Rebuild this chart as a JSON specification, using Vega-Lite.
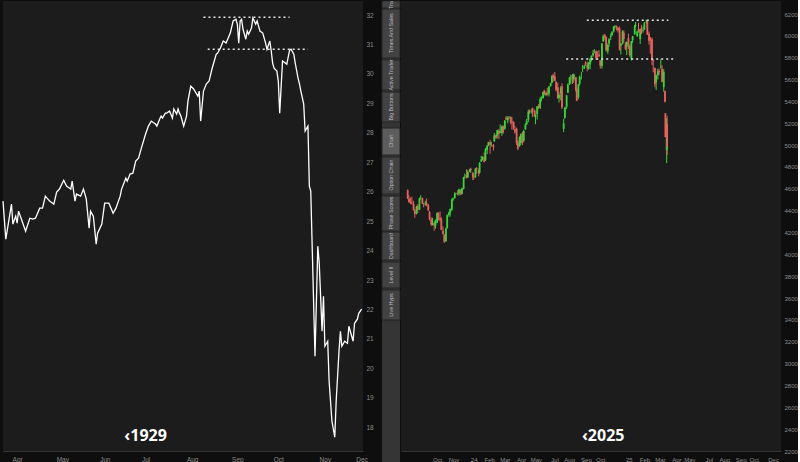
{
"$schema": "https://vega.github.io/schema/vega-lite/v6.json",
"background": "#0e0e0e",
"padding": 0,
"spacing": 0,
"config": {
  "view": {"fill": "#1c1c1c", "stroke": null},
  "axis": {"labelColor": "#8c8c8c", "labelFont": "Liberation Sans", "labelFontSize": 6.5, "ticks": false, "grid": false, "domain": false, "title": null},
  "concat": {"spacing": 0}
},
"datasets": {
  "spx": [
{"d":"2023-07-31","o":4588,"h":4594,"l":4505,"c":4513},
{"d":"2023-08-03","o":4510,"h":4540,"l":4474,"c":4478},
{"d":"2023-08-07","o":4480,"h":4520,"l":4460,"c":4467},
{"d":"2023-08-10","o":4470,"h":4527,"l":4455,"c":4464},
{"d":"2023-08-14","o":4460,"h":4490,"l":4400,"c":4404},
{"d":"2023-08-17","o":4400,"h":4415,"l":4335,"c":4370},
{"d":"2023-08-21","o":4375,"h":4445,"l":4365,"c":4436},
{"d":"2023-08-24","o":4440,"h":4460,"l":4375,"c":4406},
{"d":"2023-08-28","o":4410,"h":4520,"l":4405,"c":4514},
{"d":"2023-08-31","o":4515,"h":4541,"l":4500,"c":4515},
{"d":"2023-09-04","o":4515,"h":4520,"l":4460,"c":4465},
{"d":"2023-09-07","o":4460,"h":4472,"l":4430,"c":4457},
{"d":"2023-09-11","o":4460,"h":4490,"l":4445,"c":4467},
{"d":"2023-09-14","o":4470,"h":4511,"l":4440,"c":4450},
{"d":"2023-09-18","o":4450,"h":4460,"l":4395,"c":4402},
{"d":"2023-09-21","o":4390,"h":4395,"l":4310,"c":4320},
{"d":"2023-09-25","o":4320,"h":4340,"l":4260,"c":4274},
{"d":"2023-09-28","o":4275,"h":4335,"l":4265,"c":4288},
{"d":"2023-10-02","o":4285,"h":4300,"l":4216,"c":4263},
{"d":"2023-10-05","o":4260,"h":4320,"l":4235,"c":4308},
{"d":"2023-10-09","o":4290,"h":4385,"l":4285,"c":4377},
{"d":"2023-10-12","o":4380,"h":4385,"l":4310,"c":4327},
{"d":"2023-10-16","o":4330,"h":4394,"l":4300,"c":4314},
{"d":"2023-10-19","o":4320,"h":4340,"l":4220,"c":4224},
{"d":"2023-10-23","o":4215,"h":4255,"l":4180,"c":4186},
{"d":"2023-10-26","o":4180,"h":4185,"l":4104,"c":4117},
{"d":"2023-10-30","o":4120,"h":4245,"l":4115,"c":4237},
{"d":"2023-11-02","o":4240,"h":4366,"l":4235,"c":4358},
{"d":"2023-11-06","o":4360,"h":4390,"l":4345,"c":4382},
{"d":"2023-11-09","o":4380,"h":4420,"l":4345,"c":4415},
{"d":"2023-11-13","o":4410,"h":4510,"l":4395,"c":4502},
{"d":"2023-11-16","o":4500,"h":4520,"l":4490,"c":4514},
{"d":"2023-11-20","o":4515,"h":4568,"l":4510,"c":4556},
{"d":"2023-11-23","o":4555,"h":4564,"l":4550,"c":4559},
{"d":"2023-11-27","o":4555,"h":4587,"l":4540,"c":4550},
{"d":"2023-11-30","o":4555,"h":4600,"l":4537,"c":4595},
{"d":"2023-12-04","o":4590,"h":4595,"l":4545,"c":4549},
{"d":"2023-12-07","o":4555,"h":4610,"l":4545,"c":4604},
{"d":"2023-12-11","o":4600,"h":4710,"l":4595,"c":4707},
{"d":"2023-12-14","o":4715,"h":4739,"l":4695,"c":4719},
{"d":"2023-12-18","o":4725,"h":4778,"l":4695,"c":4699},
{"d":"2023-12-21","o":4705,"h":4772,"l":4700,"c":4754},
{"d":"2023-12-26","o":4755,"h":4785,"l":4750,"c":4781},
{"d":"2023-12-28","o":4782,"h":4793,"l":4745,"c":4770},
{"d":"2024-01-02","o":4745,"h":4755,"l":4680,"c":4705},
{"d":"2024-01-04","o":4700,"h":4726,"l":4682,"c":4697},
{"d":"2024-01-08","o":4705,"h":4790,"l":4700,"c":4783},
{"d":"2024-01-11","o":4790,"h":4798,"l":4740,"c":4783},
{"d":"2024-01-16","o":4775,"h":4785,"l":4714,"c":4739},
{"d":"2024-01-18","o":4745,"h":4842,"l":4740,"c":4840},
{"d":"2024-01-22","o":4850,"h":4903,"l":4845,"c":4868},
{"d":"2024-01-25","o":4880,"h":4898,"l":4860,"c":4891},
{"d":"2024-01-29","o":4890,"h":4932,"l":4842,"c":4846},
{"d":"2024-02-01","o":4860,"h":4975,"l":4855,"c":4959},
{"d":"2024-02-05","o":4955,"h":5000,"l":4918,"c":4995},
{"d":"2024-02-08","o":5000,"h":5030,"l":4990,"c":5027},
{"d":"2024-02-12","o":5025,"h":5048,"l":4920,"c":5001},
{"d":"2024-02-15","o":5005,"h":5030,"l":4985,"c":5006},
{"d":"2024-02-20","o":5000,"h":5010,"l":4950,"c":4982},
{"d":"2024-02-22","o":5035,"h":5111,"l":5030,"c":5089},
{"d":"2024-02-26","o":5090,"h":5097,"l":5056,"c":5070},
{"d":"2024-02-29","o":5085,"h":5140,"l":5060,"c":5137},
{"d":"2024-03-04","o":5130,"h":5149,"l":5056,"c":5105},
{"d":"2024-03-07","o":5110,"h":5190,"l":5110,"c":5124},
{"d":"2024-03-11","o":5110,"h":5180,"l":5085,"c":5166},
{"d":"2024-03-14","o":5175,"h":5180,"l":5104,"c":5117},
{"d":"2024-03-18","o":5150,"h":5230,"l":5140,"c":5225},
{"d":"2024-03-21","o":5250,"h":5265,"l":5230,"c":5234},
{"d":"2024-03-25","o":5225,"h":5265,"l":5200,"c":5248},
{"d":"2024-03-28","o":5250,"h":5265,"l":5240,"c":5254},
{"d":"2024-04-01","o":5257,"h":5263,"l":5190,"c":5211},
{"d":"2024-04-04","o":5215,"h":5256,"l":5140,"c":5204},
{"d":"2024-04-08","o":5210,"h":5220,"l":5140,"c":5160},
{"d":"2024-04-11","o":5145,"h":5175,"l":5105,"c":5123},
{"d":"2024-04-15","o":5150,"h":5160,"l":5000,"c":5022},
{"d":"2024-04-18","o":5025,"h":5045,"l":4953,"c":4967},
{"d":"2024-04-22","o":4990,"h":5080,"l":4985,"c":5071},
{"d":"2024-04-25","o":5020,"h":5105,"l":5000,"c":5100},
{"d":"2024-04-29","o":5110,"h":5123,"l":5000,"c":5018},
{"d":"2024-05-02","o":5040,"h":5140,"l":5030,"c":5128},
{"d":"2024-05-06","o":5145,"h":5200,"l":5140,"c":5187},
{"d":"2024-05-09","o":5190,"h":5240,"l":5185,"c":5223},
{"d":"2024-05-13","o":5230,"h":5325,"l":5210,"c":5308},
{"d":"2024-05-16","o":5310,"h":5325,"l":5285,"c":5303},
{"d":"2024-05-20","o":5305,"h":5330,"l":5290,"c":5307},
{"d":"2024-05-23","o":5340,"h":5342,"l":5256,"c":5305},
{"d":"2024-05-28","o":5315,"h":5325,"l":5255,"c":5267},
{"d":"2024-05-30","o":5260,"h":5280,"l":5191,"c":5278},
{"d":"2024-06-03","o":5285,"h":5358,"l":5235,"c":5354},
{"d":"2024-06-06","o":5355,"h":5375,"l":5330,"c":5347},
{"d":"2024-06-10","o":5340,"h":5440,"l":5330,"c":5421},
{"d":"2024-06-13","o":5425,"h":5447,"l":5400,"c":5432},
{"d":"2024-06-17","o":5432,"h":5490,"l":5425,"c":5487},
{"d":"2024-06-20","o":5500,"h":5505,"l":5455,"c":5465},
{"d":"2024-06-24","o":5460,"h":5490,"l":5447,"c":5478},
{"d":"2024-06-27","o":5475,"h":5524,"l":5455,"c":5460},
{"d":"2024-07-01","o":5470,"h":5540,"l":5445,"c":5537},
{"d":"2024-07-05","o":5540,"h":5570,"l":5535,"c":5567},
{"d":"2024-07-08","o":5570,"h":5640,"l":5565,"c":5633},
{"d":"2024-07-11","o":5640,"h":5655,"l":5580,"c":5615},
{"d":"2024-07-15","o":5630,"h":5670,"l":5585,"c":5588},
{"d":"2024-07-18","o":5580,"h":5585,"l":5490,"c":5505},
{"d":"2024-07-22","o":5530,"h":5570,"l":5425,"c":5427},
{"d":"2024-07-25","o":5430,"h":5480,"l":5390,"c":5459},
{"d":"2024-07-29","o":5475,"h":5540,"l":5410,"c":5522},
{"d":"2024-08-01","o":5537,"h":5566,"l":5330,"c":5346},
{"d":"2024-08-05","o":5150,"h":5240,"l":5119,"c":5199},
{"d":"2024-08-08","o":5250,"h":5350,"l":5240,"c":5344},
{"d":"2024-08-12","o":5350,"h":5460,"l":5330,"c":5455},
{"d":"2024-08-15","o":5480,"h":5565,"l":5475,"c":5554},
{"d":"2024-08-19","o":5555,"h":5625,"l":5550,"c":5620},
{"d":"2024-08-22","o":5630,"h":5645,"l":5560,"c":5634},
{"d":"2024-08-26","o":5640,"h":5650,"l":5560,"c":5592},
{"d":"2024-08-29","o":5600,"h":5655,"l":5570,"c":5648},
{"d":"2024-09-03","o":5620,"h":5625,"l":5490,"c":5503},
{"d":"2024-09-05","o":5510,"h":5530,"l":5402,"c":5408},
{"d":"2024-09-09","o":5440,"h":5560,"l":5420,"c":5554},
{"d":"2024-09-12","o":5560,"h":5636,"l":5545,"c":5626},
{"d":"2024-09-16","o":5615,"h":5670,"l":5600,"c":5618},
{"d":"2024-09-19","o":5700,"h":5733,"l":5670,"c":5703},
{"d":"2024-09-23","o":5705,"h":5735,"l":5695,"c":5722},
{"d":"2024-09-26","o":5750,"h":5767,"l":5725,"c":5738},
{"d":"2024-09-30","o":5730,"h":5765,"l":5675,"c":5709},
{"d":"2024-10-03","o":5700,"h":5760,"l":5690,"c":5751},
{"d":"2024-10-07","o":5740,"h":5795,"l":5695,"c":5792},
{"d":"2024-10-10","o":5785,"h":5822,"l":5765,"c":5815},
{"d":"2024-10-14","o":5820,"h":5871,"l":5810,"c":5842},
{"d":"2024-10-17","o":5860,"h":5878,"l":5840,"c":5864},
{"d":"2024-10-21","o":5860,"h":5866,"l":5780,"c":5797},
{"d":"2024-10-24","o":5810,"h":5862,"l":5790,"c":5808},
{"d":"2024-10-28","o":5830,"h":5870,"l":5805,"c":5813},
{"d":"2024-10-31","o":5775,"h":5780,"l":5700,"c":5729},
{"d":"2024-11-04","o":5725,"h":5935,"l":5700,"c":5929},
{"d":"2024-11-07","o":5950,"h":6012,"l":5945,"c":5995},
{"d":"2024-11-11","o":6008,"h":6018,"l":5960,"c":5985},
{"d":"2024-11-14","o":5990,"h":5995,"l":5853,"c":5870},
{"d":"2024-11-18","o":5860,"h":5930,"l":5835,"c":5917},
{"d":"2024-11-21","o":5930,"h":5980,"l":5900,"c":5969},
{"d":"2024-11-25","o":5990,"h":6020,"l":5960,"c":5999},
{"d":"2024-11-28","o":6005,"h":6045,"l":6000,"c":6032},
{"d":"2024-12-02","o":6040,"h":6090,"l":6030,"c":6086},
{"d":"2024-12-05","o":6085,"h":6099,"l":6065,"c":6090},
{"d":"2024-12-09","o":6090,"h":6095,"l":6050,"c":6084},
{"d":"2024-12-12","o":6075,"h":6080,"l":6030,"c":6051},
{"d":"2024-12-16","o":6065,"h":6085,"l":5865,"c":5872},
{"d":"2024-12-19","o":5910,"h":5935,"l":5830,"c":5930},
{"d":"2024-12-23","o":5940,"h":6050,"l":5920,"c":6040},
{"d":"2024-12-26","o":6030,"h":6050,"l":5930,"c":5971},
{"d":"2024-12-30","o":5920,"h":5940,"l":5870,"c":5882},
{"d":"2025-01-02","o":5900,"h":5950,"l":5825,"c":5942},
{"d":"2025-01-06","o":5980,"h":6020,"l":5880,"c":5918},
{"d":"2025-01-09","o":5910,"h":5920,"l":5810,"c":5827},
{"d":"2025-01-13","o":5790,"h":5955,"l":5773,"c":5950},
{"d":"2025-01-16","o":5960,"h":6000,"l":5935,"c":5997},
{"d":"2025-01-21","o":6015,"h":6100,"l":6010,"c":6086},
{"d":"2025-01-23","o":6090,"h":6128,"l":6080,"c":6101},
{"d":"2025-01-27","o":6000,"h":6045,"l":5990,"c":6039},
{"d":"2025-01-30","o":6060,"h":6120,"l":6030,"c":6041},
{"d":"2025-02-03","o":5970,"h":6065,"l":5925,"c":6061},
{"d":"2025-02-06","o":6070,"h":6100,"l":6015,"c":6026},
{"d":"2025-02-10","o":6045,"h":6085,"l":6030,"c":6051},
{"d":"2025-02-13","o":6060,"h":6127,"l":6055,"c":6115},
{"d":"2025-02-18","o":6120,"h":6147,"l":6110,"c":6144},
{"d":"2025-02-20","o":6135,"h":6140,"l":6008,"c":6013},
{"d":"2025-02-24","o":6020,"h":6040,"l":5920,"c":5956},
{"d":"2025-02-27","o":5980,"h":5990,"l":5837,"c":5955},
{"d":"2025-03-03","o":5970,"h":5985,"l":5732,"c":5779},
{"d":"2025-03-06","o":5780,"h":5785,"l":5666,"c":5770},
{"d":"2025-03-10","o":5705,"h":5710,"l":5530,"c":5558},
{"d":"2025-03-13","o":5575,"h":5645,"l":5505,"c":5639},
{"d":"2025-03-17","o":5640,"h":5700,"l":5600,"c":5675},
{"d":"2025-03-20","o":5680,"h":5700,"l":5640,"c":5667},
{"d":"2025-03-24","o":5710,"h":5786,"l":5700,"c":5712},
{"d":"2025-03-27","o":5700,"h":5730,"l":5575,"c":5581},
{"d":"2025-03-31","o":5530,"h":5695,"l":5488,"c":5671},
{"d":"2025-04-03","o":5492,"h":5500,"l":5390,"c":5397},
{"d":"2025-04-04","o":5292,"h":5292,"l":5069,"c":5074},
{"d":"2025-04-07","o":4953,"h":5246,"l":4835,"c":5062},
{"d":"2025-04-08","o":5193,"h":5267,"l":4910,"c":4982}
  ],
  "tabs": [
{"n":"Trade","s":0,"e":7,"m":1},
{"n":"Times And Sales","s":8,"e":57,"m":32},
{"n":"Active Trader","s":59,"e":89,"m":74},
{"n":"Big Buttons","s":91,"e":121,"m":106},
{"n":"Chart","s":127,"e":154,"m":140},
{"n":"Option Chain","s":156,"e":193,"m":174},
{"n":"Phase Scores","s":195,"e":230,"m":212},
{"n":"Dashboard","s":231,"e":259,"m":245},
{"n":"Level II","s":261,"e":287,"m":274},
{"n":"Live Hyps","s":289,"e":319,"m":304}
  ]
},
"hconcat": [
{
  "width": 360,
  "height": 450,
  "encoding": {
    "x": {"field": "d", "type": "temporal",
      "scale": {"domain": [{"year":1929,"month":3,"date":22},{"year":1929,"month":12,"date":2}]},
      "axis": {"format": "%b", "labelFlush": false, "labelOverlap": false, "labelPadding": 5, "minExtent": 12, "maxExtent": 12, "domain": true, "domainColor": "#333333",
        "values": [{"year":1929,"month":4,"date":1},{"year":1929,"month":5,"date":3},{"year":1929,"month":6,"date":2},{"year":1929,"month":7,"date":1},{"year":1929,"month":8,"date":3},{"year":1929,"month":9,"date":4},{"year":1929,"month":10,"date":3},{"year":1929,"month":11,"date":5},{"year":1929,"month":12,"date":1}]}},
    "y": {"field": "v", "type": "quantitative",
      "scale": {"domain": [17.19, 32.48], "nice": false, "zero": false},
      "axis": {"orient": "right", "format": "d", "values": [18,19,20,21,22,23,24,25,26,27,28,29,30,31,32], "labelPadding": 3, "minExtent": 18, "maxExtent": 18, "labelFontSize": 6.5}}
  },
  "layer": [
    {
      "data": {"values": [
{"d":"1929-03-22","v":25.68},{"d":"1929-03-24","v":24.39},{"d":"1929-03-28","v":25.58},{"d":"1929-03-29","v":24.90},{"d":"1929-03-31","v":25.17},
{"d":"1929-04-01","v":24.93},{"d":"1929-04-02","v":25.34},{"d":"1929-04-04","v":25.07},{"d":"1929-04-07","v":24.66},{"d":"1929-04-10","v":25.10},
{"d":"1929-04-12","v":25.07},{"d":"1929-04-14","v":25.10},{"d":"1929-04-17","v":25.44},{"d":"1929-04-19","v":25.44},{"d":"1929-04-21","v":25.85},
{"d":"1929-04-24","v":25.68},{"d":"1929-04-27","v":25.58},{"d":"1929-04-29","v":25.99},{"d":"1929-05-01","v":26.09},{"d":"1929-05-04","v":26.39},
{"d":"1929-05-06","v":26.19},{"d":"1929-05-09","v":26.09},{"d":"1929-05-10","v":26.36},{"d":"1929-05-12","v":25.68},{"d":"1929-05-13","v":25.92},
{"d":"1929-05-16","v":25.85},{"d":"1929-05-18","v":26.09},{"d":"1929-05-20","v":25.75},{"d":"1929-05-22","v":24.76},{"d":"1929-05-23","v":25.34},
{"d":"1929-05-25","v":25.17},{"d":"1929-05-27","v":24.22},{"d":"1929-05-28","v":24.59},{"d":"1929-05-31","v":24.90},{"d":"1929-06-02","v":25.61},
{"d":"1929-06-05","v":25.61},{"d":"1929-06-08","v":25.27},{"d":"1929-06-10","v":25.44},{"d":"1929-06-13","v":25.85},{"d":"1929-06-14","v":26.09},
{"d":"1929-06-17","v":26.46},{"d":"1929-06-18","v":26.36},{"d":"1929-06-20","v":26.60},{"d":"1929-06-22","v":26.63},{"d":"1929-06-24","v":27.04},
{"d":"1929-06-26","v":27.14},{"d":"1929-06-28","v":27.48},{"d":"1929-07-01","v":27.96},{"d":"1929-07-03","v":28.23},{"d":"1929-07-05","v":28.40},
{"d":"1929-07-08","v":28.30},{"d":"1929-07-09","v":28.23},{"d":"1929-07-11","v":28.47},{"d":"1929-07-12","v":28.57},{"d":"1929-07-13","v":28.50},
{"d":"1929-07-15","v":28.67},{"d":"1929-07-16","v":28.67},{"d":"1929-07-18","v":28.74},{"d":"1929-07-20","v":28.50},{"d":"1929-07-21","v":28.81},
{"d":"1929-07-23","v":28.64},{"d":"1929-07-24","v":28.81},{"d":"1929-07-25","v":28.67},{"d":"1929-07-26","v":28.57},{"d":"1929-07-28","v":28.23},
{"d":"1929-07-30","v":28.57},{"d":"1929-07-31","v":29.08},{"d":"1929-08-02","v":29.59},{"d":"1929-08-04","v":29.49},{"d":"1929-08-07","v":29.25},
{"d":"1929-08-08","v":29.42},{"d":"1929-08-09","v":28.40},{"d":"1929-08-11","v":29.42},{"d":"1929-08-13","v":29.66},{"d":"1929-08-15","v":29.76},
{"d":"1929-08-17","v":30.17},{"d":"1929-08-19","v":30.50},{"d":"1929-08-20","v":30.67},{"d":"1929-08-21","v":30.71},{"d":"1929-08-23","v":30.88},
{"d":"1929-08-25","v":31.12},{"d":"1929-08-27","v":31.05},{"d":"1929-08-30","v":31.39},{"d":"1929-09-01","v":31.80},{"d":"1929-09-03","v":31.86},
{"d":"1929-09-04","v":31.69},{"d":"1929-09-05","v":31.05},{"d":"1929-09-06","v":31.80},{"d":"1929-09-07","v":31.86},{"d":"1929-09-08","v":31.52},
{"d":"1929-09-10","v":31.18},{"d":"1929-09-11","v":31.46},{"d":"1929-09-12","v":31.35},{"d":"1929-09-14","v":31.56},{"d":"1929-09-15","v":31.90},
{"d":"1929-09-17","v":31.69},{"d":"1929-09-18","v":31.80},{"d":"1929-09-19","v":31.63},{"d":"1929-09-20","v":31.46},{"d":"1929-09-22","v":31.39},
{"d":"1929-09-24","v":31.05},{"d":"1929-09-25","v":30.84},{"d":"1929-09-27","v":31.12},{"d":"1929-09-28","v":30.78},{"d":"1929-09-29","v":30.37},
{"d":"1929-09-30","v":30.20},{"d":"1929-10-02","v":30.10},{"d":"1929-10-03","v":29.76},{"d":"1929-10-04","v":28.67},{"d":"1929-10-06","v":30.44},
{"d":"1929-10-08","v":30.37},{"d":"1929-10-09","v":30.33},{"d":"1929-10-11","v":30.81},{"d":"1929-10-12","v":30.84},{"d":"1929-10-14","v":30.67},
{"d":"1929-10-15","v":30.37},{"d":"1929-10-17","v":29.86},{"d":"1929-10-18","v":29.66},{"d":"1929-10-19","v":29.42},{"d":"1929-10-21","v":28.98},
{"d":"1929-10-22","v":28.06},{"d":"1929-10-24","v":28.23},{"d":"1929-10-25","v":26.19},{"d":"1929-10-26","v":26.02},{"d":"1929-10-29","v":20.41},
{"d":"1929-10-31","v":24.15},{"d":"1929-11-01","v":23.57},{"d":"1929-11-03","v":21.26},{"d":"1929-11-04","v":22.45},{"d":"1929-11-05","v":20.75},
{"d":"1929-11-07","v":20.92},{"d":"1929-11-08","v":19.56},{"d":"1929-11-10","v":18.20},{"d":"1929-11-12","v":17.66},{"d":"1929-11-13","v":18.88},
{"d":"1929-11-15","v":20.58},{"d":"1929-11-16","v":21.26},{"d":"1929-11-17","v":20.75},{"d":"1929-11-19","v":20.92},{"d":"1929-11-21","v":20.85},
{"d":"1929-11-22","v":21.43},{"d":"1929-11-25","v":20.92},{"d":"1929-11-26","v":21.53},{"d":"1929-11-28","v":21.67},{"d":"1929-11-29","v":21.87},
{"d":"1929-12-01","v":22.01}
      ]},
      "mark": {"type": "line", "color": "#ffffff", "strokeWidth": 1.3}
    },
    {
      "data": {"values": [
        {"d":"1929-08-11","d2":"1929-10-11","v":31.93},
        {"d":"1929-08-14","d2":"1929-10-24","v":30.84}
      ]},
      "mark": {"type": "rule", "color": "#e6e6e6", "strokeWidth": 1.5, "strokeDash": [2, 3]},
      "encoding": {"x2": {"field": "d2"}}
    },
    {
      "data": {"values": [{"d":"1929-07-01","v":17.69,"t":"‹1929"}]},
      "mark": {"type": "text", "color": "#ffffff", "fontSize": 16, "fontWeight": "bold", "font": "Open Sans"},
      "encoding": {"text": {"field": "t"}}
    }
  ]
},
{
  "width": 18,
  "height": 462,
  "encoding": {
    "x": {"datum": 0, "type": "quantitative", "scale": {"domain": [0, 1]}, "axis": null},
    "y": {"field": "s", "type": "quantitative", "scale": {"domain": [0, 462], "reverse": true, "nice": false, "zero": false}, "axis": null}
  },
  "layer": [
    {
      "data": {"values": [{"s":0,"e":462}]},
      "mark": {"type": "rect", "color": "#353535"},
      "encoding": {"x2": {"datum": 1}, "y2": {"field": "e"}}
    },
    {
      "data": {"name": "tabs"},
      "mark": {"type": "rect", "stroke": "#242424", "strokeWidth": 1},
      "encoding": {
        "x2": {"datum": 1},
        "y2": {"field": "e"},
        "fill": {"condition": {"test": "datum.n == 'Chart'", "value": "#5c5c5c"}, "value": "#424242"}
      }
    },
    {
      "data": {"name": "tabs"},
      "mark": {"type": "text", "angle": 270, "fontSize": 5.3, "color": "#bdbdbd", "font": "Liberation Sans", "clip": true},
      "encoding": {
        "x": {"datum": 0.5, "type": "quantitative"},
        "y": {"field": "m", "type": "quantitative"},
        "text": {"field": "n"}
      }
    }
  ]
},
{
  "width": 380,
  "height": 450,
  "encoding": {
    "x": {"field": "d", "type": "temporal",
      "scale": {"domain": [{"year":2023,"month":7,"date":27},{"year":2025,"month":12,"date":23}]},
      "axis": {"labelFlush": false, "labelOverlap": false, "labelAlign": "center", "labelPadding": 5, "minExtent": 12, "maxExtent": 12, "domain": true, "domainColor": "#333333", "labelFontSize": 6,
        "labelExpr": "month(datum.value) == 0 ? timeFormat(datum.value, '%y') : timeFormat(datum.value, '%b')",
        "values": [{"year":2023,"month":10,"date":9},{"year":2023,"month":11,"date":17},{"year":2024,"month":1,"date":4},{"year":2024,"month":2,"date":10},{"year":2024,"month":3,"date":18},{"year":2024,"month":4,"date":26},{"year":2024,"month":5,"date":31},{"year":2024,"month":7,"date":14},{"year":2024,"month":8,"date":18},{"year":2024,"month":9,"date":27},{"year":2024,"month":10,"date":31},{"year":2025,"month":1,"date":7},{"year":2025,"month":2,"date":13},{"year":2025,"month":3,"date":22},{"year":2025,"month":4,"date":30},{"year":2025,"month":5,"date":31},{"year":2025,"month":7,"date":16},{"year":2025,"month":8,"date":22},{"year":2025,"month":9,"date":30},{"year":2025,"month":10,"date":31},{"year":2025,"month":12,"date":16}]}}
  },
  "layer": [
    {
      "data": {"name": "spx"},
      "mark": {"type": "rule", "strokeWidth": 1},
      "encoding": {
        "y": {"field": "l", "type": "quantitative", "scale": {"domain": [2200, 6319], "nice": false, "zero": false},
          "axis": {"orient": "right", "format": "d", "values": [2200,2400,2600,2800,3000,3200,3400,3600,3800,4000,4200,4400,4600,4800,5000,5200,5400,5600,5800,6000,6200], "labelPadding": 3, "labelFontSize": 6, "minExtent": 16, "maxExtent": 16}},
        "y2": {"field": "h"},
        "color": {"condition": {"test": "datum.c >= datum.o", "value": "#3ad43a"}, "value": "#e5625e"}
      }
    },
    {
      "data": {"name": "spx"},
      "mark": {"type": "bar", "size": 1.8},
      "encoding": {
        "y": {"field": "o", "type": "quantitative", "scale": {"domain": [2200, 6319], "nice": false, "zero": false},
          "axis": {"orient": "right", "format": "d", "values": [2200,2400,2600,2800,3000,3200,3400,3600,3800,4000,4200,4400,4600,4800,5000,5200,5400,5600,5800,6000,6200], "labelPadding": 3, "labelFontSize": 6, "minExtent": 16, "maxExtent": 16}},
        "y2": {"field": "c"},
        "color": {"condition": {"test": "datum.c >= datum.o", "value": "#3ad43a"}, "value": "#e5625e"}
      }
    },
    {
      "data": {"values": [
        {"d":"2024-09-29","d2":"2025-04-11","v":6142},
        {"d":"2024-08-11","d2":"2025-04-23","v":5788}
      ]},
      "mark": {"type": "rule", "color": "#e6e6e6", "strokeWidth": 1.5, "strokeDash": [2, 3]},
      "encoding": {
        "y": {"field": "v", "type": "quantitative", "scale": {"domain": [2200, 6319], "nice": false, "zero": false},
          "axis": {"orient": "right", "format": "d", "values": [2200,2400,2600,2800,3000,3200,3400,3600,3800,4000,4200,4400,4600,4800,5000,5200,5400,5600,5800,6000,6200], "labelPadding": 3, "labelFontSize": 6, "minExtent": 16, "maxExtent": 16}},
        "x2": {"field": "d2"}
      }
    },
    {
      "data": {"values": [{"d":"2024-11-07","v":2337,"t":"‹2025"}]},
      "mark": {"type": "text", "color": "#ffffff", "fontSize": 16, "fontWeight": "bold", "font": "Open Sans"},
      "encoding": {
        "y": {"field": "v", "type": "quantitative", "scale": {"domain": [2200, 6319], "nice": false, "zero": false},
          "axis": {"orient": "right", "format": "d", "values": [2200,2400,2600,2800,3000,3200,3400,3600,3800,4000,4200,4400,4600,4800,5000,5200,5400,5600,5800,6000,6200], "labelPadding": 3, "labelFontSize": 6, "minExtent": 16, "maxExtent": 16}},
        "text": {"field": "t"}
      }
    }
  ]
}
]
}
